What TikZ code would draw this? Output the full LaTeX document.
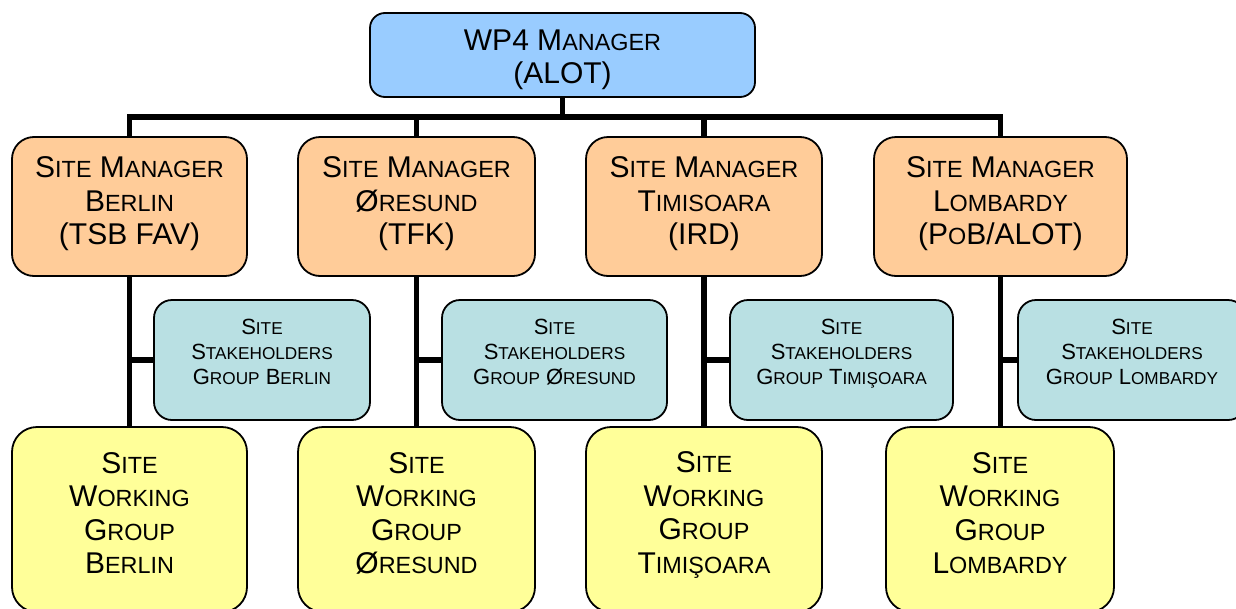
\documentclass[tikz,border=0pt]{standalone}
\usepackage{fontspec}
\setmainfont{Liberation Sans}
\definecolor{topblue}{HTML}{99CCFF}
\definecolor{smorange}{HTML}{FFCC99}
\definecolor{shteal}{HTML}{B9E0E3}
\definecolor{wgyellow}{HTML}{FFFF99}
\newcommand\bsc[1]{{\fontsize{23.4}{33.5}\selectfont #1}}
\newcommand\ssc[1]{{\fontsize{17.2}{25}\selectfont #1}}
\begin{document}
\begin{tikzpicture}[x=1pt,y=-1pt,
  box/.style={draw=black, line width=1.8pt, inner sep=0pt},
  topbox/.style={box, fill=topblue, minimum width=385pt, minimum height=84pt, rounded corners=15pt},
  smbox/.style={box, fill=smorange, minimum height=139pt, rounded corners=22pt},
  shbox/.style={box, fill=shteal, minimum height=120pt, rounded corners=18pt},
  wgbox/.style={box, fill=wgyellow, minimum height=185pt, rounded corners=25pt},
  bigtxt/.style={align=center, inner sep=0pt, font=\fontsize{30}{33.5}\selectfont},
  smalltxt/.style={align=center, inner sep=0pt, font=\fontsize{22}{25}\selectfont},
  conn/.style={line width=5.5pt, line join=miter}]
\useasboundingbox (0,0) rectangle (1236,608);
% boxes
\node[topbox] (top) at (562.5,55) {};
\node[smbox, minimum width=235pt] (sm1) at (129.5,206.5) {};
\node[smbox, minimum width=237pt] (sm2) at (416.5,206.5) {};
\node[smbox, minimum width=236pt] (sm3) at (704,206.5) {};
\node[smbox, minimum width=253pt] (sm4) at (1000.5,206.5) {};
\node[shbox, minimum width=216pt] (sh1) at (262,360) {};
\node[shbox, minimum width=225pt] (sh2) at (554.5,360) {};
\node[shbox, minimum width=223pt] (sh3) at (841.5,360) {};
\node[shbox, minimum width=228pt] (sh4) at (1132,360) {};
\node[wgbox, minimum width=235pt] (wg1) at (129.5,519.5) {};
\node[wgbox, minimum width=237pt] (wg2) at (416.5,519.5) {};
\node[wgbox, minimum width=236pt] (wg3) at (704,519.5) {};
\node[wgbox, minimum width=228pt] (wg4) at (1000,519.5) {};
% connectors
\coordinate (bus) at (0,117);
\draw[conn] (sm1.north) -- (sm1.north |- bus) -- (sm4.north |- bus) -- (sm4.north);
\draw[conn] (top.south) -- (top.south |- bus);
\draw[conn] (sm2.north) -- (sm2.north |- bus);
\draw[conn] (sm3.north) -- (sm3.north |- bus);
\draw[conn] (sm1.south) -- (wg1.north);
\draw[conn] (sm2.south) -- (wg2.north);
\draw[conn] (sm3.south) -- (wg3.north);
\draw[conn] (sm4.south) -- (sm4.south |- wg4.north);
\draw[conn] (sm1.south |- sh1.west) -- (sh1.west);
\draw[conn] (sm2.south |- sh2.west) -- (sh2.west);
\draw[conn] (sm3.south |- sh3.west) -- (sh3.west);
\draw[conn] (sm4.south |- sh4.west) -- (sh4.west);
% texts
\node[bigtxt] (ttop) at (562.5,59.9) {WP4 M\bsc{ANAGER}\\(ALOT)};
\node[bigtxt] (tsm1) at (129.5,204) {S\bsc{ITE} M\bsc{ANAGER}\\B\bsc{ERLIN}\\(TSB FAV)};
\node[bigtxt] (tsm2) at (416.5,204) {S\bsc{ITE} M\bsc{ANAGER}\\Ø\bsc{RESUND}\\(TFK)};
\node[bigtxt] (tsm3) at (704,204) {S\bsc{ITE} M\bsc{ANAGER}\\T\bsc{IMISOARA}\\(IRD)};
\node[bigtxt] (tsm4) at (1000.5,204) {S\bsc{ITE} M\bsc{ANAGER}\\L\bsc{OMBARDY}\\(P\bsc{O}B/ALOT)};
\node[smalltxt] (tsh1) at (262,351.9) {S\ssc{ITE}\\S\ssc{TAKEHOLDERS}\\G\ssc{ROUP} B\ssc{ERLIN}};
\node[smalltxt] (tsh2) at (554.5,352.3) {S\ssc{ITE}\\S\ssc{TAKEHOLDERS}\\G\ssc{ROUP} Ø\ssc{RESUND}};
\node[smalltxt] (tsh3) at (841.5,353.6) {S\ssc{ITE}\\S\ssc{TAKEHOLDERS}\\G\ssc{ROUP} T\ssc{IMIŞOARA}};
\node[smalltxt] (tsh4) at (1132,351.9) {S\ssc{ITE}\\S\ssc{TAKEHOLDERS}\\G\ssc{ROUP} L\ssc{OMBARDY}};
\node[bigtxt] (twg1) at (129.5,512.9) {S\bsc{ITE}\\W\bsc{ORKING}\\G\bsc{ROUP}\\B\bsc{ERLIN}};
\node[bigtxt] (twg2) at (416.5,513.6) {S\bsc{ITE}\\W\bsc{ORKING}\\G\bsc{ROUP}\\Ø\bsc{RESUND}};
\node[bigtxt] (twg3) at (704,515.2) {S\bsc{ITE}\\W\bsc{ORKING}\\G\bsc{ROUP}\\T\bsc{IMIŞOARA}};
\node[bigtxt] (twg4) at (1000,512.9) {S\bsc{ITE}\\W\bsc{ORKING}\\G\bsc{ROUP}\\L\bsc{OMBARDY}};
\end{tikzpicture}
\end{document}
